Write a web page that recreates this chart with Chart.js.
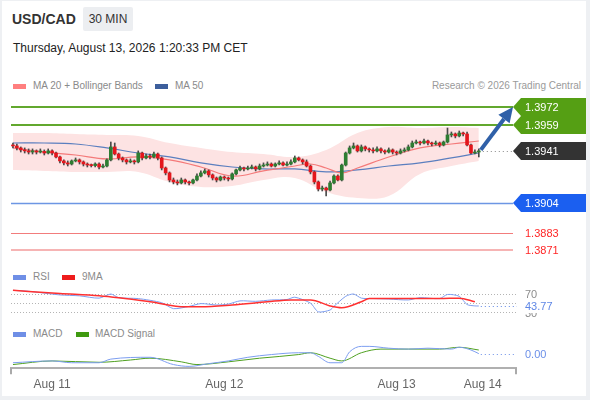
<!DOCTYPE html>
<html><head><meta charset="utf-8">
<script src="https://cdn.jsdelivr.net/npm/chart.js@4/dist/chart.umd.min.js"></script>
<style>
html,body{margin:0;padding:0;background:#eef0f3;width:590px;height:400px;overflow:hidden;font-family:"Liberation Sans",Arial,sans-serif;}
#card{position:absolute;left:2px;top:1px;width:584px;height:395px;background:#fff;}
canvas{position:absolute;left:0;}
.t{position:absolute;white-space:nowrap;line-height:20px;}
.sw{position:absolute;width:13px;height:5px;}
</style></head><body>
<div id="card"></div>
<div class="t" style="left:12px;top:9px;font-size:14px;font-weight:bold;color:#333">USD/CAD</div>
<div style="position:absolute;left:83px;top:7px;width:50px;height:24px;background:#eceef1;border-radius:2px"></div>
<div class="t" style="left:83px;top:9px;width:50px;text-align:center;font-size:12px;color:#333">30 MIN</div>
<div class="t" style="left:13px;top:38px;font-size:12px;color:#222">Thursday, August 13, 2026 1:20:33 PM CET</div>

<div class="sw" style="left:13px;top:84px;background:#ff7f7f"></div>
<div class="t" style="left:33px;top:76px;font-size:10px;color:#8a8a8a">MA 20 + Bollinger Bands</div>
<div class="sw" style="left:155px;top:84px;background:#3d5f9c"></div>
<div class="t" style="left:175px;top:76px;font-size:10px;color:#8a8a8a">MA 50</div>
<div class="t" style="right:9px;top:76px;font-size:10px;color:#9a9a9a">Research © 2026 Trading Central</div>

<div class="sw" style="left:13px;top:275px;background:#6f8fe6"></div>
<div class="t" style="left:33px;top:267px;font-size:10px;color:#8a8a8a">RSI</div>
<div class="sw" style="left:62px;top:275px;background:#ee1c1c"></div>
<div class="t" style="left:82px;top:267px;font-size:10px;color:#8a8a8a">9MA</div>

<div class="sw" style="left:13px;top:332px;background:#6f8fe6"></div>
<div class="t" style="left:33px;top:324px;font-size:10px;color:#8a8a8a">MACD</div>
<div class="sw" style="left:76px;top:332px;background:#3f9a10"></div>
<div class="t" style="left:95px;top:324px;font-size:10px;color:#8a8a8a">MACD Signal</div>

<canvas id="price" width="590" height="165" style="top:95px"></canvas>
<canvas id="rsi" width="590" height="35" style="top:285px"></canvas>
<canvas id="macd" width="590" height="62" style="top:340px"></canvas>

<script>
// ---- data ----
const candleOpen = [1.39451,1.39444,1.39430,1.39416,1.39409,1.39401,1.39409,1.39401,1.39405,1.39394,
 1.39409,1.39394,1.39366,1.39338,1.39324,1.39316,1.39338,1.39345,1.39331,1.39316,
 1.39309,1.39305,1.39316,1.39295,1.39302,1.39345,1.39437,1.39387,1.39359,1.39345,
 1.39331,1.39338,1.39331,1.39394,1.39359,1.39373,1.39366,1.39387,1.39359,1.39288,
 1.39253,1.39203,1.39189,1.39182,1.39203,1.39189,1.39182,1.39203,1.39231,1.39253,
 1.39267,1.39239,1.39217,1.39203,1.39224,1.39217,1.39210,1.39246,1.39274,1.39288,
 1.39281,1.39288,1.39295,1.39281,1.39302,1.39309,1.39316,1.39302,1.39316,1.39324,
 1.39309,1.39316,1.39331,1.39359,1.39345,1.39331,1.39302,1.39260,1.39189,1.39139,
 1.39146,1.39132,1.39182,1.39231,1.39203,1.39309,1.39394,1.39430,1.39444,1.39409,
 1.39437,1.39423,1.39416,1.39409,1.39423,1.39409,1.39401,1.39416,1.39401,1.39394,
 1.39409,1.39416,1.39437,1.39465,1.39472,1.39465,1.39479,1.39465,1.39458,1.39465,
 1.39451,1.39472,1.39522,1.39529,1.39515,1.39536,1.39529,1.39451,1.39394,1.39401];
const candleHigh = [1.39465,1.39458,1.39437,1.39430,1.39423,1.39423,1.39416,1.39423,1.39416,1.39423,
 1.39416,1.39401,1.39373,1.39345,1.39338,1.39345,1.39359,1.39352,1.39338,1.39324,
 1.39316,1.39324,1.39324,1.39316,1.39352,1.39472,1.39465,1.39394,1.39366,1.39352,
 1.39352,1.39345,1.39409,1.39401,1.39387,1.39387,1.39401,1.39394,1.39366,1.39295,
 1.39260,1.39217,1.39203,1.39217,1.39210,1.39196,1.39210,1.39246,1.39267,1.39281,
 1.39274,1.39246,1.39224,1.39231,1.39231,1.39224,1.39253,1.39281,1.39302,1.39295,
 1.39302,1.39309,1.39302,1.39316,1.39324,1.39331,1.39324,1.39324,1.39338,1.39331,
 1.39331,1.39345,1.39373,1.39366,1.39352,1.39345,1.39309,1.39267,1.39196,1.39160,
 1.39153,1.39196,1.39239,1.39239,1.39316,1.39401,1.39444,1.39465,1.39451,1.39451,
 1.39444,1.39430,1.39430,1.39437,1.39430,1.39416,1.39430,1.39423,1.39409,1.39423,
 1.39430,1.39451,1.39479,1.39486,1.39479,1.39493,1.39486,1.39472,1.39479,1.39472,
 1.39479,1.39571,1.39543,1.39536,1.39550,1.39543,1.39543,1.39458,1.39416,1.39423];
const candleLow = [1.39430,1.39416,1.39401,1.39394,1.39387,1.39387,1.39387,1.39394,1.39380,1.39387,
 1.39380,1.39359,1.39324,1.39309,1.39302,1.39309,1.39331,1.39316,1.39302,1.39295,
 1.39295,1.39295,1.39281,1.39288,1.39295,1.39338,1.39380,1.39345,1.39331,1.39316,
 1.39324,1.39316,1.39324,1.39345,1.39352,1.39352,1.39359,1.39345,1.39274,1.39239,
 1.39189,1.39175,1.39168,1.39175,1.39175,1.39168,1.39175,1.39196,1.39224,1.39246,
 1.39224,1.39203,1.39189,1.39196,1.39203,1.39196,1.39203,1.39239,1.39267,1.39267,
 1.39274,1.39281,1.39267,1.39274,1.39295,1.39302,1.39295,1.39295,1.39309,1.39302,
 1.39302,1.39309,1.39324,1.39338,1.39316,1.39295,1.39246,1.39175,1.39125,1.39125,
 1.39090,1.39125,1.39175,1.39196,1.39196,1.39302,1.39387,1.39423,1.39401,1.39401,
 1.39409,1.39401,1.39394,1.39401,1.39394,1.39387,1.39394,1.39387,1.39380,1.39387,
 1.39401,1.39409,1.39430,1.39458,1.39451,1.39458,1.39451,1.39444,1.39451,1.39437,
 1.39444,1.39465,1.39508,1.39501,1.39508,1.39515,1.39444,1.39387,1.39387,1.39366];
const candleClose = [1.39444,1.39430,1.39416,1.39409,1.39401,1.39409,1.39401,1.39405,1.39394,1.39409,
 1.39394,1.39366,1.39338,1.39324,1.39316,1.39338,1.39345,1.39331,1.39316,1.39309,
 1.39305,1.39316,1.39295,1.39302,1.39345,1.39437,1.39387,1.39359,1.39345,1.39331,
 1.39338,1.39331,1.39394,1.39359,1.39373,1.39366,1.39387,1.39359,1.39288,1.39253,
 1.39203,1.39189,1.39182,1.39203,1.39189,1.39182,1.39203,1.39231,1.39253,1.39267,
 1.39239,1.39217,1.39203,1.39224,1.39217,1.39210,1.39246,1.39274,1.39288,1.39281,
 1.39288,1.39295,1.39281,1.39302,1.39309,1.39316,1.39302,1.39316,1.39324,1.39309,
 1.39316,1.39331,1.39359,1.39345,1.39331,1.39302,1.39260,1.39189,1.39139,1.39146,
 1.39132,1.39182,1.39231,1.39203,1.39309,1.39394,1.39430,1.39444,1.39409,1.39437,
 1.39423,1.39416,1.39409,1.39423,1.39409,1.39401,1.39416,1.39401,1.39394,1.39409,
 1.39416,1.39437,1.39465,1.39472,1.39465,1.39479,1.39465,1.39458,1.39465,1.39451,
 1.39472,1.39522,1.39529,1.39515,1.39536,1.39529,1.39451,1.39394,1.39401,1.39409];

const bandIdx = [0,8,16,24,32,40,48,56,64,72,80,88,96,104,112,119];
const bbUpper = [1.39536,1.39536,1.39529,1.39522,1.39515,1.39465,1.39430,1.39401,1.39387,1.39366,1.39416,1.39536,1.39578,1.39571,1.39578,1.39571];
const bbLower = [1.39274,1.39267,1.39260,1.39260,1.39260,1.39189,1.39154,1.39161,1.39203,1.39217,1.39118,1.39076,1.39090,1.39246,1.39302,1.39338];
const ma50 = [1.39465,1.39465,1.39458,1.39430,1.39394,1.39366,1.39324,1.39295,1.39281,1.39281,1.39260,1.39274,1.39302,1.39324,1.39359,1.39394];
const ma20Idx = [0,8,16,24,32,40,48,56,64,72,76,80,84,88,96,104,112,119];
const ma20 = [1.39430,1.39401,1.39380,1.39352,1.39366,1.39345,1.39295,1.39231,1.39267,1.39302,1.39316,1.39288,1.39253,1.39288,1.39366,1.39430,1.39458,1.39479];

const rsiIdx = [0,4,12,17,22,25,27,32,38,41,45,48,52,55,58,62,66,70,72,76,78,81,82,85,87,89,92,96,101,104,109,111,114,116,118,119];
const rsi = [78,76,68,66,61,70,62,60,51,38,43,49,46,48,55,54,57,58,63,50,31,35,43,65,70,61,60,59,57,62,60,69,65,47,44,43.77];
const rsiMaIdx = [0,12,22,35,44,48,56,65,71,76,81,84,89,91,99,109,114,118];
const rsiMa = [78,71,66,53,42,42,46,53,57,57,44,40,53,60,60,60,61,53];
const rsiLevels = [70,50,30];
const rsiTickLabels = ['70','30'];

const macdIdx = [0,10,15,22,25,35,41,45,50,55,60,66,73,76,78,81,84,86,89,91,96,101,106,112,114,117,119];
const macd = [-0.00010,-0.00008,-0.00010,-0.00010,-0.00006,-0.00004,-0.00012,-0.00014,-0.00011,-0.00008,-0.00004,-0.00001,0.00001,0.00001,-0.00003,-0.00010,-0.00010,0.00002,0.00008,0.00008,0.00006,0.00005,0.00006,0.00005,0.00007,0.00004,0.00000];
const sigIdx = [0,10,22,30,35,43,47,55,63,73,76,81,84,89,94,101,109,114,119];
const macdSignal = [-0.00012,-0.00008,-0.000095,-0.00007,-0.00005,-0.00009,-0.00012,-0.00009,-0.00005,-0.00001,0.00001,-0.00005,-0.00008,0.00001,0.00005,0.00005,0.00005,0.00007,0.00004];

const levels = [1.3972,1.3959,1.3941,1.3904,1.3883,1.3871];
const levelKinds = ['res','res','last','sup','sup2','sup3'];
const tickPos = [10,54,98,120];
const tickLabels = ['Aug 11','Aug 12','Aug 13','Aug 14'];

// ---- helpers / styles ----
const FONT = '"Liberation Sans", Arial, sans-serif';
Chart.defaults.font.family = FONT;
const pts = (xs, ys) => xs.map((x, i) => ({x, y: ys[i]}));
const levelStyle = {
  res:  {line:'#62a82e', width:2, tag:'#559f14'},
  last: {line:'#888', width:1, dash:[1,3], tag:'#333333'},
  sup:  {line:'#6d96e4', width:1.5, tag:'#1b5ff0'},
  sup2: {line:'#f27c7c', width:1, text:'#ff2626'},
  sup3: {line:'#f6b4b4', width:2, text:'#ff2626'}
};
const X_MIN = -0.5, X_MAX = 128.5;
const PAD = {left:11, right:74, top:0, bottom:0};
const baseOpts = {
  responsive:false, animation:false, events:[],
  layout:{padding:PAD},
  plugins:{legend:{display:false}, tooltip:{enabled:false}}
};

function tag(ctx, xTip, y, w, h, color, text) {
  ctx.beginPath();
  ctx.moveTo(xTip, y);
  ctx.lineTo(xTip + 8, y - h/2);
  ctx.lineTo(xTip + w, y - h/2);
  ctx.lineTo(xTip + w, y + h/2);
  ctx.lineTo(xTip + 8, y + h/2);
  ctx.closePath();
  ctx.fillStyle = color; ctx.fill();
  ctx.fillStyle = '#fff';
  ctx.font = '11px ' + FONT; ctx.textBaseline = 'middle'; ctx.textAlign = 'left';
  ctx.fillText(text, xTip + 12, y + 0.5);
}

const priceDeco = {
  id:'priceDeco',
  beforeDatasetsDraw(chart) {
    const {ctx, chartArea:a, scales:{x, y}} = chart;
    const tip = a.right - 3;
    ctx.save();
    levels.forEach((v, k) => {
      const st = levelStyle[levelKinds[k]];
      const py = Math.round(y.getPixelForValue(v)) + (st.width % 2 ? 0.5 : 0);
      const x0 = levelKinds[k] === 'last' ? x.getPixelForValue(candleClose.length - 1) + 4 : a.left;
      ctx.beginPath();
      ctx.strokeStyle = st.line; ctx.lineWidth = st.width; ctx.setLineDash(st.dash || []);
      ctx.moveTo(x0, py); ctx.lineTo(tip, py); ctx.stroke();
    });
    ctx.restore();
  },
  afterDraw(chart) {
    const {ctx, chartArea:a, scales:{x, y}} = chart;
    const tip = a.right - 3;
    ctx.save();
    levels.forEach((v, k) => {
      const st = levelStyle[levelKinds[k]];
      const py = Math.round(y.getPixelForValue(v));
      if (st.tag) tag(ctx, tip, py, 73, 18, st.tag, v.toFixed(4));
      else {
        ctx.fillStyle = st.text; ctx.font = '11px ' + FONT; ctx.textBaseline = 'middle';
        ctx.fillText(v.toFixed(4), tip + 12, py + 0.5);
      }
    });
    // arrow
    const n = candleClose.length - 1;
    const x0 = x.getPixelForValue(n) + 2, y0 = y.getPixelForValue(candleClose[n]) - 1;
    const x1 = tip, y1 = y.getPixelForValue(levels[0]);
    const ang = Math.atan2(y1 - y0, x1 - x0);
    const hl = 15, hw = 7;
    const bx = x1 - hl * Math.cos(ang), by = y1 - hl * Math.sin(ang);
    ctx.strokeStyle = '#2f60a8'; ctx.fillStyle = '#2f60a8'; ctx.lineWidth = 4;
    ctx.beginPath(); ctx.moveTo(x0, y0); ctx.lineTo(bx, by); ctx.stroke();
    ctx.beginPath(); ctx.moveTo(x1, y1);
    ctx.lineTo(bx + hw * Math.sin(ang), by - hw * Math.cos(ang));
    ctx.lineTo(bx - hw * Math.sin(ang), by + hw * Math.cos(ang));
    ctx.closePath(); ctx.fill();
    ctx.restore();
  }
};

const isUp = i => candleClose[i] >= candleOpen[i];

new Chart(document.getElementById('price'), {
  type:'bar',
  data:{datasets:[
    {type:'line', data:pts(bandIdx, bbUpper), borderColor:'transparent', borderWidth:0, pointRadius:0,
     fill:'+1', backgroundColor:'#fde3e3', tension:0.4, order:20},
    {type:'line', data:pts(bandIdx, bbLower), borderColor:'transparent', borderWidth:0, pointRadius:0,
     fill:false, tension:0.4, order:21},
    {type:'line', data:pts(bandIdx, ma50), borderColor:'#5b7fbf', borderWidth:1.2, pointRadius:0, fill:false, tension:0.4, order:10},
    {type:'line', data:pts(ma20Idx, ma20), borderColor:'#f47a7a', borderWidth:1.2, pointRadius:0, fill:false, tension:0.4, order:9},
    {type:'bar', data:candleLow.map((l, i) => ({x:i, y:[l, candleHigh[i]]})), barThickness:1, grouped:false,
     backgroundColor:'#4a4a4a', order:2},
    {type:'bar', data:candleClose.map((c, i) => ({x:i, y:[candleOpen[i], c]})), barThickness:3, grouped:false, minBarLength:1,
     backgroundColor:ctx => isUp(ctx.dataIndex) ? '#2e7d32' : '#e3161c', order:1}
  ]},
  options:{...baseOpts,
    scales:{
      x:{type:'linear', display:false, min:X_MIN, max:X_MAX, offset:false},
      y:{display:false, min:1.38636, max:1.39805}
    }
  },
  plugins:[priceDeco]
});

const rsiDeco = {
  id:'rsiDeco',
  beforeDatasetsDraw(chart) {
    const {ctx, chartArea:a, scales:{y}} = chart;
    ctx.save();
    ctx.strokeStyle = '#b4b4b4'; ctx.lineWidth = 1; ctx.setLineDash([1, 2]);
    rsiLevels.forEach(v => {
      const py = Math.round(y.getPixelForValue(v)) + 0.5;
      ctx.beginPath(); ctx.moveTo(a.left, py); ctx.lineTo(a.right + 1, py); ctx.stroke();
    });
    ctx.restore();
  },
  afterDraw(chart) {
    const {ctx, chartArea:a, scales:{x, y}} = chart;
    ctx.save();
    const last = rsi[rsi.length - 1];
    const lx = x.getPixelForValue(rsiIdx[rsiIdx.length - 1]), ly = y.getPixelForValue(last);
    ctx.strokeStyle = '#5f87e6'; ctx.lineWidth = 1; ctx.setLineDash([1, 3]);
    ctx.beginPath(); ctx.moveTo(lx + 2, Math.round(ly) + 0.5); ctx.lineTo(a.right + 1, Math.round(ly) + 0.5); ctx.stroke();
    ctx.font = '11px ' + FONT; ctx.textBaseline = 'middle'; ctx.fillStyle = '#8c8c8c';
    ctx.fillText(rsiTickLabels[0], a.right + 9, y.getPixelForValue(70) + 0.5);
    ctx.fillText(rsiTickLabels[1], a.right + 9, y.getPixelForValue(30) + 1.5);
    ctx.fillStyle = '#fff'; ctx.fillRect(a.right + 7, ly - 6, 36, 13);
    ctx.fillStyle = '#5f87e6'; ctx.fillText(last.toFixed(2), a.right + 9, ly + 0.5);
    ctx.restore();
  }
};

new Chart(document.getElementById('rsi'), {
  type:'line',
  data:{datasets:[
    {data:pts(rsiIdx, rsi), borderColor:'#7d9ef0', borderWidth:1, pointRadius:0, tension:0.25, order:2},
    {data:pts(rsiMaIdx, rsiMa), borderColor:'#ff3030', borderWidth:1.5, pointRadius:0, cubicInterpolationMode:'monotone', order:1}
  ]},
  options:{...baseOpts,
    scales:{
      x:{type:'linear', display:false, min:X_MIN, max:X_MAX},
      y:{display:false, min:13.2, max:89.7}
    }
  },
  plugins:[rsiDeco]
});

const macdDeco = {
  id:'macdDeco',
  afterDraw(chart) {
    const {ctx, chartArea:a, scales:{x, y}} = chart;
    ctx.save();
    ctx.strokeStyle = '#aaaaaa'; ctx.lineWidth = 2;
    [a.left, a.right].forEach(px => {
      ctx.beginPath(); ctx.moveTo(px, a.bottom); ctx.lineTo(px, a.bottom + 6); ctx.stroke();
    });
    const last = macd[macd.length - 1];
    const lx = x.getPixelForValue(macdIdx[macdIdx.length - 1]), ly = Math.round(y.getPixelForValue(last)) + 0.5;
    ctx.strokeStyle = '#6b8fe8'; ctx.lineWidth = 1; ctx.setLineDash([1, 3]);
    ctx.beginPath(); ctx.moveTo(lx + 2, ly); ctx.lineTo(a.right - 1, ly); ctx.stroke();
    ctx.font = '11px ' + FONT; ctx.textBaseline = 'middle'; ctx.fillStyle = '#6b8fe8';
    ctx.fillText(Math.abs(last).toFixed(2), a.right + 9, ly);
    ctx.restore();
  }
};

new Chart(document.getElementById('macd'), {
  type:'line',
  data:{datasets:[
    {data:pts(macdIdx, macd), borderColor:'#7d9ef0', borderWidth:1, pointRadius:0, cubicInterpolationMode:'monotone', order:1},
    {data:pts(sigIdx, macdSignal), borderColor:'#4fa020', borderWidth:1, pointRadius:0, cubicInterpolationMode:'monotone', order:2}
  ]},
  options:{...baseOpts,
    layout:{padding:{left:11, right:74, top:0, bottom:5.6}},
    scales:{
      x:{type:'linear', min:X_MIN, max:X_MAX,
         grid:{display:false, drawTicks:false},
         border:{display:true, color:'#b0b0b0', width:2},
         afterBuildTicks:s => { s.ticks = tickPos.map(v => ({value:v})); },
         ticks:{autoSkip:false, maxRotation:0, padding:9, color:'#666', font:{size:12},
                callback:v => tickLabels[tickPos.indexOf(v)]}},
      y:{display:false, min:-0.00016, max:0.00015}
    }
  },
  plugins:[macdDeco]
});
</script>
</body></html>
